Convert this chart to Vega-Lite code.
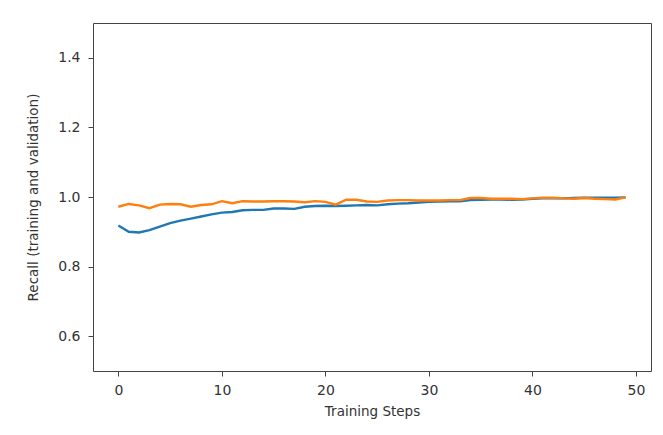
{
  "$schema": "https://vega.github.io/schema/vega-lite/v6.json",
  "autosize": {"type": "none"},
  "padding": {"left": 93, "top": 23, "right": 12, "bottom": 64},
  "width": 558,
  "height": 348,
  "background": "white",
  "config": {
    "view": {"stroke": "#444", "strokeWidth": 1},
    "axis": {"grid": false, "domain": false, "tickColor": "#444", "tickSize": 5, "labelColor": "#333", "titleColor": "#333", "labelFont": "DejaVu Sans", "titleFont": "DejaVu Sans", "labelFontSize": 14, "titleFontSize": 13.5, "titleFontWeight": "normal"}
  },
  "data": {"values": [
    {"step": 0, "series": "training", "recall": 0.918},
    {"step": 1, "series": "training", "recall": 0.900},
    {"step": 2, "series": "training", "recall": 0.898},
    {"step": 3, "series": "training", "recall": 0.905},
    {"step": 4, "series": "training", "recall": 0.915},
    {"step": 5, "series": "training", "recall": 0.925},
    {"step": 6, "series": "training", "recall": 0.932},
    {"step": 7, "series": "training", "recall": 0.938},
    {"step": 8, "series": "training", "recall": 0.944},
    {"step": 9, "series": "training", "recall": 0.950},
    {"step": 10, "series": "training", "recall": 0.955},
    {"step": 11, "series": "training", "recall": 0.957},
    {"step": 12, "series": "training", "recall": 0.962},
    {"step": 13, "series": "training", "recall": 0.963},
    {"step": 14, "series": "training", "recall": 0.963},
    {"step": 15, "series": "training", "recall": 0.967},
    {"step": 16, "series": "training", "recall": 0.967},
    {"step": 17, "series": "training", "recall": 0.966},
    {"step": 18, "series": "training", "recall": 0.972},
    {"step": 19, "series": "training", "recall": 0.974},
    {"step": 20, "series": "training", "recall": 0.975},
    {"step": 21, "series": "training", "recall": 0.974},
    {"step": 22, "series": "training", "recall": 0.975},
    {"step": 23, "series": "training", "recall": 0.976},
    {"step": 24, "series": "training", "recall": 0.977},
    {"step": 25, "series": "training", "recall": 0.976},
    {"step": 26, "series": "training", "recall": 0.979},
    {"step": 27, "series": "training", "recall": 0.981},
    {"step": 28, "series": "training", "recall": 0.982},
    {"step": 29, "series": "training", "recall": 0.984},
    {"step": 30, "series": "training", "recall": 0.986},
    {"step": 31, "series": "training", "recall": 0.987},
    {"step": 32, "series": "training", "recall": 0.988},
    {"step": 33, "series": "training", "recall": 0.988},
    {"step": 34, "series": "training", "recall": 0.991},
    {"step": 35, "series": "training", "recall": 0.992},
    {"step": 36, "series": "training", "recall": 0.993},
    {"step": 37, "series": "training", "recall": 0.993},
    {"step": 38, "series": "training", "recall": 0.992},
    {"step": 39, "series": "training", "recall": 0.993},
    {"step": 40, "series": "training", "recall": 0.995},
    {"step": 41, "series": "training", "recall": 0.996},
    {"step": 42, "series": "training", "recall": 0.996},
    {"step": 43, "series": "training", "recall": 0.996},
    {"step": 44, "series": "training", "recall": 0.997},
    {"step": 45, "series": "training", "recall": 0.998},
    {"step": 46, "series": "training", "recall": 0.998},
    {"step": 47, "series": "training", "recall": 0.998},
    {"step": 48, "series": "training", "recall": 0.998},
    {"step": 49, "series": "training", "recall": 0.999},
    {"step": 0, "series": "validation", "recall": 0.972},
    {"step": 1, "series": "validation", "recall": 0.980},
    {"step": 2, "series": "validation", "recall": 0.976},
    {"step": 3, "series": "validation", "recall": 0.968},
    {"step": 4, "series": "validation", "recall": 0.978},
    {"step": 5, "series": "validation", "recall": 0.980},
    {"step": 6, "series": "validation", "recall": 0.979},
    {"step": 7, "series": "validation", "recall": 0.972},
    {"step": 8, "series": "validation", "recall": 0.977},
    {"step": 9, "series": "validation", "recall": 0.979},
    {"step": 10, "series": "validation", "recall": 0.988},
    {"step": 11, "series": "validation", "recall": 0.982},
    {"step": 12, "series": "validation", "recall": 0.988},
    {"step": 13, "series": "validation", "recall": 0.987},
    {"step": 14, "series": "validation", "recall": 0.987},
    {"step": 15, "series": "validation", "recall": 0.988},
    {"step": 16, "series": "validation", "recall": 0.988},
    {"step": 17, "series": "validation", "recall": 0.987},
    {"step": 18, "series": "validation", "recall": 0.985},
    {"step": 19, "series": "validation", "recall": 0.988},
    {"step": 20, "series": "validation", "recall": 0.986},
    {"step": 21, "series": "validation", "recall": 0.978},
    {"step": 22, "series": "validation", "recall": 0.992},
    {"step": 23, "series": "validation", "recall": 0.992},
    {"step": 24, "series": "validation", "recall": 0.987},
    {"step": 25, "series": "validation", "recall": 0.986},
    {"step": 26, "series": "validation", "recall": 0.990},
    {"step": 27, "series": "validation", "recall": 0.991},
    {"step": 28, "series": "validation", "recall": 0.991},
    {"step": 29, "series": "validation", "recall": 0.990},
    {"step": 30, "series": "validation", "recall": 0.990},
    {"step": 31, "series": "validation", "recall": 0.990},
    {"step": 32, "series": "validation", "recall": 0.991},
    {"step": 33, "series": "validation", "recall": 0.991},
    {"step": 34, "series": "validation", "recall": 0.997},
    {"step": 35, "series": "validation", "recall": 0.997},
    {"step": 36, "series": "validation", "recall": 0.995},
    {"step": 37, "series": "validation", "recall": 0.995},
    {"step": 38, "series": "validation", "recall": 0.995},
    {"step": 39, "series": "validation", "recall": 0.994},
    {"step": 40, "series": "validation", "recall": 0.996},
    {"step": 41, "series": "validation", "recall": 0.998},
    {"step": 42, "series": "validation", "recall": 0.998},
    {"step": 43, "series": "validation", "recall": 0.996},
    {"step": 44, "series": "validation", "recall": 0.995},
    {"step": 45, "series": "validation", "recall": 0.997},
    {"step": 46, "series": "validation", "recall": 0.995},
    {"step": 47, "series": "validation", "recall": 0.994},
    {"step": 48, "series": "validation", "recall": 0.993},
    {"step": 49, "series": "validation", "recall": 0.999}
  ]},
  "mark": {"type": "line", "strokeWidth": 2.4, "clip": true},
  "encoding": {
    "x": {"field": "step", "type": "quantitative", "title": "Training Steps",
      "scale": {"domain": [-2.45, 51.45], "nice": false, "zero": false},
      "axis": {"values": [0, 10, 20, 30, 40, 50], "format": "d", "labelPadding": 7, "titlePadding": 7}},
    "y": {"field": "recall", "type": "quantitative", "title": "Recall (training and validation)",
      "scale": {"domain": [0.5, 1.5], "nice": false, "zero": false},
      "axis": {"values": [0.6, 0.8, 1.0, 1.2, 1.4], "format": ".1f", "labelPadding": 8, "titlePadding": 17}},
    "color": {"field": "series", "type": "nominal",
      "scale": {"domain": ["training", "validation"], "range": ["#1f77b4", "#ff7f0e"]}, "legend": null}
  }
}
